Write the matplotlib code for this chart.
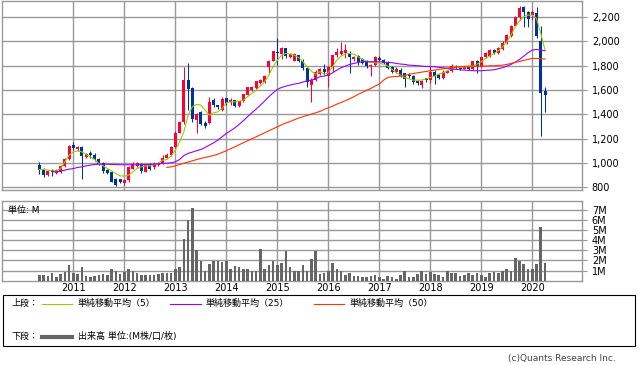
import matplotlib
matplotlib.use("Agg")
import matplotlib.pyplot as plt
import numpy as np
import pandas as pd
from matplotlib.patches import Rectangle
from matplotlib.lines import Line2D

plt.rcParams['font.family'] = ['DejaVu Sans', 'Noto Sans CJK JP']

# monthly candles, May 2010 - Apr 2020
months = pd.date_range('2010-05-01', periods=120, freq='MS')

opens = [983, 955, 900, 945, 920, 928, 975, 1030, 1148, 1115, 1133, 1050, 1085, 1070, 1037, 1000,
         945, 925, 870, 868, 840, 860, 955, 975, 992, 930, 990, 965, 985, 1000, 1045, 1065,
         1133, 1250, 1340, 1680, 1612, 1352, 1420, 1330, 1330, 1515, 1475, 1435, 1530, 1500, 1515, 1470,
         1505, 1560, 1600, 1613, 1655, 1665, 1790, 1840, 1913, 1895, 1940, 1870, 1840, 1885, 1840, 1782,
         1640, 1680, 1730, 1768, 1710, 1790, 1885, 1895, 1900, 1900, 1850, 1877, 1850, 1836, 1795, 1803,
         1860, 1845, 1830, 1790, 1748, 1760, 1735, 1725, 1713, 1672, 1640, 1695, 1680, 1750, 1720, 1700,
         1742, 1755, 1790, 1790, 1775, 1790, 1768, 1836, 1790, 1866, 1877, 1925, 1900, 1932, 1983, 2042,
         2125, 2200, 2282, 2241, 2213, 2227, 2003, 1593]
highs = [1005, 960, 940, 955, 948, 985, 1040, 1150, 1175, 1140, 1140, 1085, 1095, 1080, 1045, 1010,
         955, 930, 875, 870, 865, 975, 1010, 1010, 1000, 990, 1000, 1005, 1010, 1065, 1080, 1140,
         1260, 1345, 1790, 1822, 1620, 1410, 1430, 1345, 1540, 1535, 1480, 1545, 1535, 1530, 1520, 1510,
         1570, 1625, 1630, 1675, 1690, 1720, 1845, 1920, 2022, 1950, 1945, 1900, 1905, 1890, 1850, 1790,
         1700, 1760, 1780, 1810, 1795, 1890, 1940, 1995, 1980, 1918, 1880, 1885, 1860, 1845, 1810, 1880,
         1875, 1855, 1840, 1795, 1790, 1780, 1740, 1735, 1720, 1685, 1680, 1700, 1795, 1760, 1730, 1760,
         1765, 1810, 1805, 1800, 1800, 1795, 1840, 1845, 1870, 1910, 1935, 1935, 1950, 2000, 2055, 2130,
         2210, 2290, 2290, 2245, 2255, 2282, 2123, 1620]
lows = [910, 887, 895, 895, 912, 920, 970, 1025, 1110, 1100, 868, 1040, 1045, 1020, 985, 920,
        910, 845, 810, 835, 820, 845, 950, 965, 915, 925, 940, 955, 975, 990, 1040, 1060,
        1125, 1245, 1320, 1435, 1340, 1248, 1310, 1285, 1320, 1460, 1440, 1430, 1480, 1475, 1460, 1462,
        1500, 1555, 1590, 1605, 1650, 1660, 1730, 1835, 1803, 1855, 1860, 1860, 1835, 1830, 1760, 1625,
        1503, 1675, 1725, 1720, 1620, 1750, 1870, 1885, 1858, 1735, 1840, 1803, 1810, 1780, 1713, 1795,
        1835, 1810, 1770, 1735, 1740, 1705, 1625, 1700, 1650, 1640, 1612, 1665, 1660, 1645, 1690, 1690,
        1735, 1750, 1770, 1765, 1770, 1760, 1760, 1740, 1785, 1860, 1870, 1895, 1893, 1925, 1975, 2035,
        2120, 2172, 2118, 2118, 2172, 2022, 1221, 1420]
closes = [947, 900, 937, 928, 942, 977, 1037, 1142, 1120, 1128, 1057, 1078, 1068, 1030, 996, 935,
          920, 848, 820, 845, 860, 965, 995, 998, 937, 980, 955, 995, 1000, 1045, 1070, 1135,
          1250, 1340, 1680, 1604, 1365, 1406, 1320, 1305, 1503, 1475, 1460, 1525, 1495, 1520, 1470, 1505,
          1565, 1620, 1625, 1670, 1680, 1710, 1840, 1915, 1905, 1940, 1877, 1893, 1893, 1840, 1776, 1667,
          1680, 1748, 1768, 1745, 1790, 1885, 1912, 1920, 1925, 1866, 1872, 1830, 1817, 1798, 1805, 1870,
          1845, 1818, 1776, 1743, 1770, 1713, 1686, 1713, 1667, 1653, 1672, 1680, 1750, 1713, 1700, 1748,
          1755, 1796, 1776, 1770, 1795, 1768, 1836, 1795, 1866, 1900, 1925, 1905, 1940, 1987, 2050, 2123,
          2200, 2268, 2241, 2178, 2240, 2041, 1576, 1557]

# simple moving averages as drawn on the chart
sma5 = [947, 947, 942, 936, 936, 955, 1010, 1065, 1092, 1100, 1092, 1070, 1051, 1029, 997, 977,
        955, 936, 914, 895, 893, 901, 928, 955, 969, 977, 977, 988, 997, 1024, 1029, 1057,
        1106, 1174, 1256, 1393, 1462, 1481, 1475, 1434, 1393, 1412, 1420, 1448, 1494, 1502, 1502, 1508,
        1516, 1544, 1571, 1598, 1631, 1667, 1721, 1790, 1844, 1885, 1899, 1894, 1885, 1866, 1831, 1790,
        1754, 1730, 1750, 1730, 1740, 1790, 1844, 1877, 1894, 1899, 1894, 1872, 1850, 1836, 1825, 1823,
        1817, 1812, 1795, 1768, 1740, 1721, 1702, 1691, 1680, 1680, 1680, 1691, 1702, 1713, 1730, 1740,
        1757, 1771, 1782, 1784, 1790, 1790, 1795, 1812, 1831, 1858, 1877, 1899, 1921, 1954, 1995, 2050,
        2118, 2167, 2200, 2214, 2214, 2186, 2063, 1926]
sma25 = [None, None, None, 928, 928, 934, 942, 950, 955, 964, 969, 977, 983, 988, 991, 991,
         991, 988, 988, 986, 986, 986, 986, 986, 986, 988, 988, 991, 994, 997, 999, 1002,
         1010, 1029, 1062, 1079, 1090, 1101, 1111, 1128, 1147, 1166, 1188, 1215, 1243, 1265, 1289, 1317,
         1347, 1380, 1412, 1442, 1475, 1508, 1544, 1576, 1604, 1620, 1631, 1639, 1648, 1653, 1664, 1675,
         1680, 1691, 1708, 1713, 1721, 1740, 1762, 1782, 1795, 1809, 1817, 1825, 1831, 1831, 1831, 1831,
         1831, 1828, 1825, 1823, 1817, 1812, 1809, 1803, 1801, 1798, 1795, 1792, 1792, 1790, 1784, 1782,
         1776, 1771, 1768, 1765, 1762, 1760, 1757, 1757, 1757, 1760, 1762, 1765, 1773, 1782, 1795, 1809,
         1828, 1850, 1877, 1905, 1926, 1932, 1926, 1921]
sma50 = [None] * 30 + [
    964, 969, 977, 988, 999, 1008, 1018, 1029, 1038, 1046, 1054, 1062, 1073, 1087, 1101, 1117,
    1133, 1150, 1166, 1183, 1199, 1215, 1232, 1248, 1265, 1281, 1297, 1314, 1328, 1341, 1355, 1369,
    1380, 1391, 1401, 1412, 1423, 1440, 1453, 1467, 1483, 1497, 1511, 1527, 1544, 1563, 1579, 1596,
    1612, 1631, 1648, 1680, 1702, 1708, 1710, 1713, 1719, 1727, 1735, 1740, 1746, 1751, 1757, 1762,
    1768, 1773, 1779, 1784, 1787, 1790, 1792, 1795, 1795, 1795, 1795, 1795, 1798, 1798, 1801, 1803,
    1809, 1817, 1825, 1833, 1842, 1850, 1858, 1858, 1855, 1853]

# volume in millions
volume = [0.54, 0.54, 0.44, 0.8, 0.38, 0.7, 0.87, 1.52, 0.8, 0.64, 1.33, 0.44, 0.34, 0.48, 0.54, 0.7,
          0.54, 1.2, 0.93, 0.7, 0.84, 1.2, 0.93, 0.74, 0.54, 0.54, 0.54, 0.54, 0.67, 0.8, 0.8, 0.8,
          1.2, 1.33, 4.08, 5.95, 7.2, 3.0, 1.92, 0.93, 1.62, 1.92, 1.98, 1.82, 1.98, 1.13, 1.43, 1.33,
          1.2, 1.16, 1.0, 1.0, 3.16, 1.13, 1.52, 1.92, 1.52, 1.79, 2.9, 1.33, 0.93, 0.93, 1.52, 1.0,
          2.11, 2.9, 0.67, 0.8, 0.93, 1.79, 1.13, 1.0, 0.54, 0.8, 0.48, 0.48, 0.34, 0.41, 0.48, 0.54,
          0.34, 0.21, 0.44, 0.34, 0.15, 0.54, 1.0, 0.34, 0.34, 0.67, 0.93, 0.64, 0.87, 0.7, 0.6, 0.34,
          0.93, 0.74, 0.8, 0.48, 0.6, 0.74, 0.54, 0.8, 0.54, 0.34, 0.74, 0.84, 0.74, 0.97, 1.13, 1.0,
          2.21, 1.92, 1.62, 1.13, 1.13, 1.62, 5.26, 1.75]

price_ticks = [800, 1000, 1200, 1400, 1600, 1800, 2000, 2200]
vol_ticks = [1, 2, 3, 4, 5, 6, 7]

UP = '#ff0033'
DOWN = '#003399'
GRID = '#999999'

W, H = 640, 365
fig = plt.figure(figsize=(6.4, 3.65), dpi=100)


def px_axes(l, t, r, b):
    return fig.add_axes([l / W, 1 - b / H, (r - l) / W, (b - t) / H])


x = np.arange(len(months))
o = np.array(opens, float)
h = np.array(highs, float)
lo = np.array(lows, float)
c = np.array(closes, float)
col = np.where(c >= o, UP, DOWN)
xmin, xmax = -8.8, 127.7

# price panel
ax = px_axes(2, 1, 582, 190)
ax.vlines(x, lo, h, colors=col, linewidth=0.75, zorder=3)
body = np.maximum(np.abs(c - o), 4)
ax.bar(x, body, bottom=np.minimum(o, c), width=0.72, color=col, linewidth=0, zorder=4)
ax.plot(x, np.array(sma5, float), color='#99cc00', lw=0.8, zorder=5)
ax.plot(x, np.array(sma25, float), color='#9900ff', lw=0.8, zorder=5)
ax.plot(x, np.array(sma50, float), color='#ff3300', lw=0.8, zorder=5)
ax.set_xlim(xmin, xmax)
ax.set_ylim(779, 2329)
ax.yaxis.tick_right()
ax.set_yticks(price_ticks)
ax.set_yticklabels(['{:,}'.format(v) for v in price_ticks])
ax.tick_params(axis='y', length=3.6, width=0.8, color=GRID, pad=3.5, labelsize=7)
year_pos = [i for i, m in enumerate(months) if m.month == 1]
ax.set_xticks(year_pos)
ax.set_xticklabels([])
ax.tick_params(axis='x', length=0)
ax.grid(True, color=GRID, lw=1.0, zorder=0)
for s in ax.spines.values():
    s.set_color(GRID)
    s.set_linewidth(1.0)

# volume panel
av = px_axes(2, 201, 582, 280.7)
av.bar(x, volume, width=0.62, color='#666666', linewidth=0, zorder=3)
av.set_xlim(xmin, xmax)
av.set_ylim(0, 7.87)
av.yaxis.tick_right()
av.set_yticks(vol_ticks)
av.set_yticklabels(['{}M'.format(v) for v in vol_ticks])
av.tick_params(axis='y', length=3.6, width=0.8, color=GRID, pad=3.5, labelsize=7)
av.set_xticks(year_pos)
av.set_xticklabels([str(months[i].year) for i in year_pos])
av.tick_params(axis='x', length=0, pad=2, labelsize=7)
av.grid(True, color=GRID, lw=1.0, zorder=0)
for s in av.spines.values():
    s.set_color(GRID)
    s.set_linewidth(1.0)
av.text(6 / 580, (280.7 - 210) / 79.7, '単位: M', transform=av.transAxes,
        fontsize=6.5, va='center', ha='left', zorder=6)

# legend box
def fx(px):
    return px / W


def fy(py):
    return 1 - py / H


fig.patches.append(Rectangle((fx(2.5), fy(346)), fx(632) - fx(0), fy(295) - fy(346),
                             transform=fig.transFigure, fill=False, edgecolor='black', lw=0.8))
legend_rows = [
    (303.7, '上段：', [('#99cc00', 42, 72, '単純移動平均（5）', 78),
                     ('#9900ff', 170, 201, '単純移動平均（25）', 206),
                     ('#ff3300', 314, 344, '単純移動平均（50）', 350)]),
]
for yy, head, items in legend_rows:
    fig.text(fx(11), fy(yy), head, fontsize=6.5, va='center', ha='left')
    for color, x0, x1, label, tx in items:
        fig.lines.append(Line2D([fx(x0), fx(x1)], [fy(yy), fy(yy)], color=color, lw=0.8,
                                transform=fig.transFigure))
        fig.text(fx(tx), fy(yy), label, fontsize=6.5, va='center', ha='left')

fig.text(fx(11), fy(336.7), '下段：', fontsize=6.5, va='center', ha='left')
fig.lines.append(Line2D([fx(42), fx(72)], [fy(336.7), fy(336.7)], color='#666666', lw=3,
                        transform=fig.transFigure))
fig.text(fx(78), fy(336.7), '出来高 単位:(M株/口/枚)', fontsize=6.5, va='center', ha='left')

fig.text(fx(616), fy(358), '(c)Quants Research Inc.', fontsize=6.5, va='center', ha='right',
         color='#444444')

fig.savefig('out.png', dpi=100)
